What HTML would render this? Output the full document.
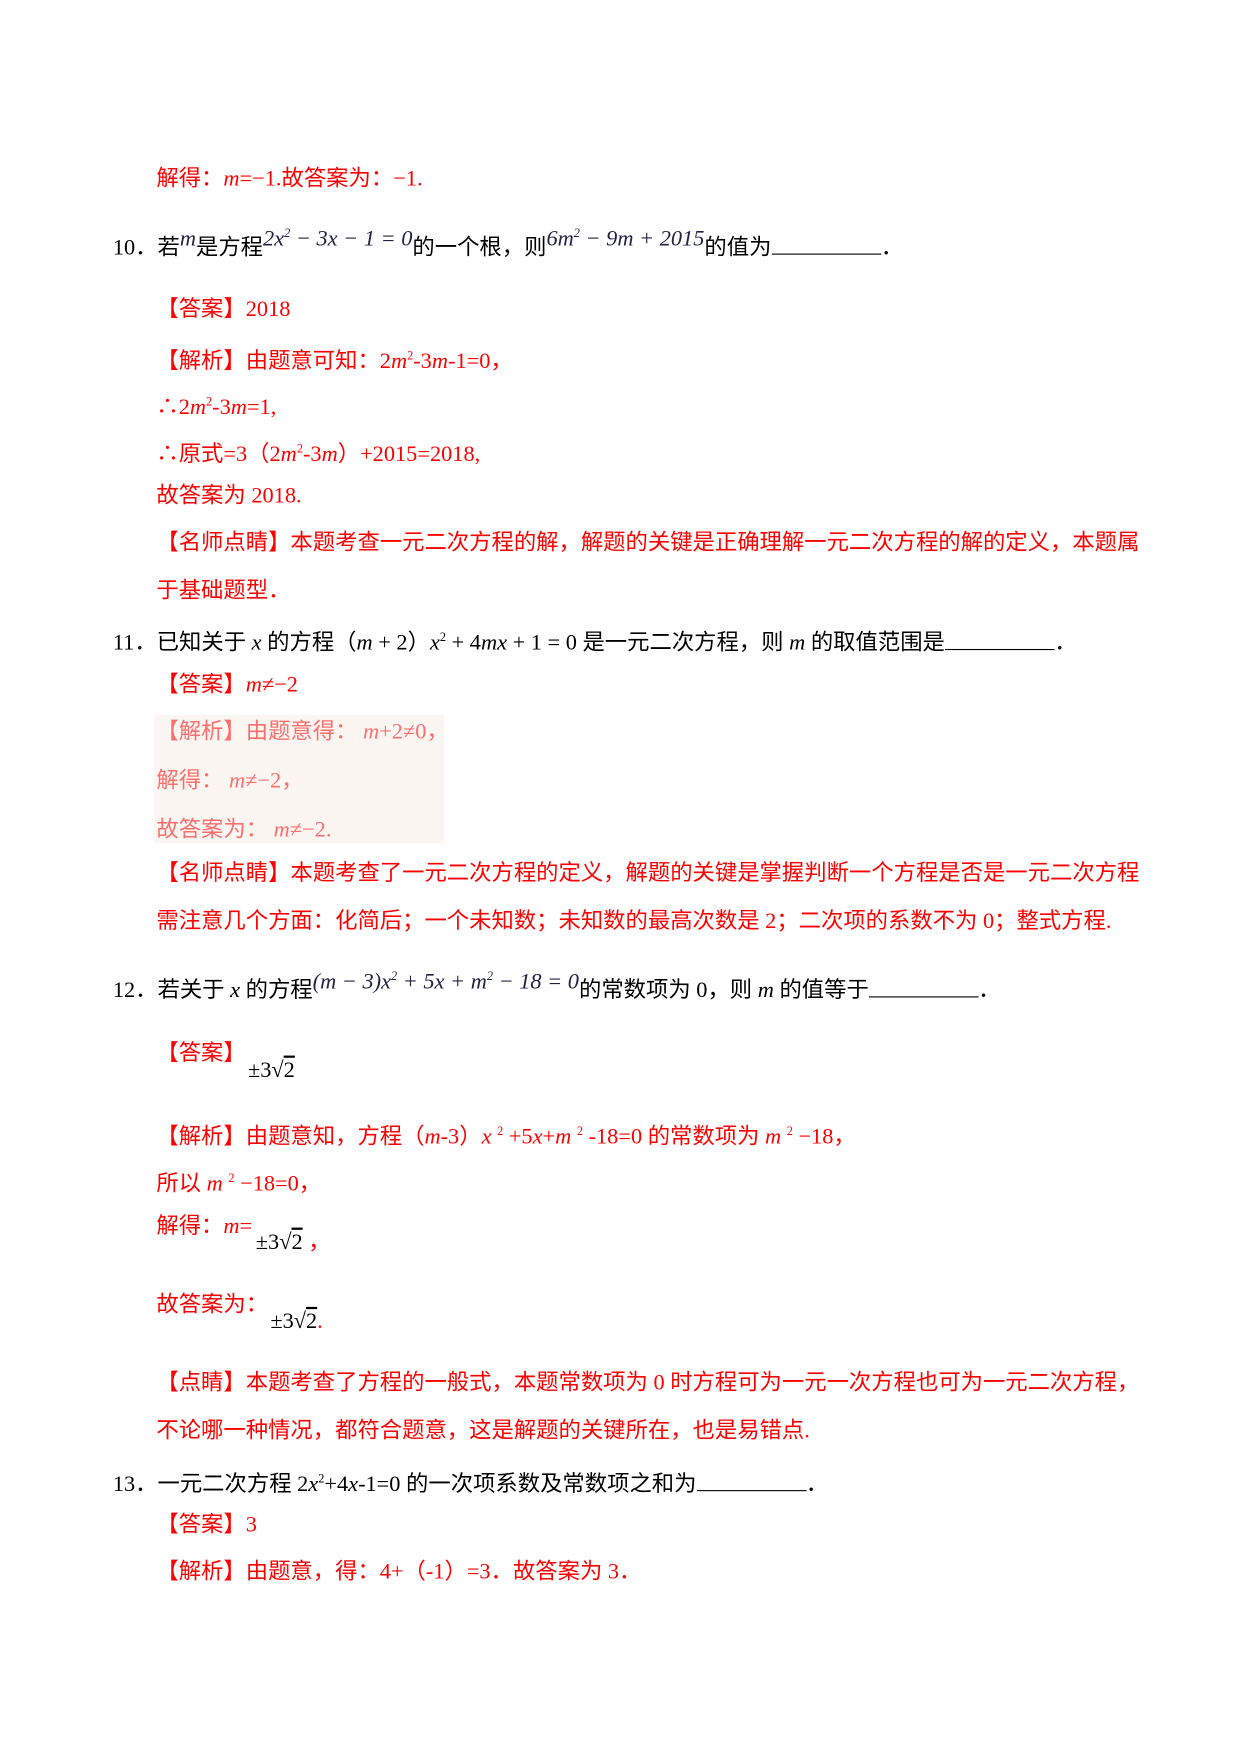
<!DOCTYPE html><html><head><meta charset="utf-8"><style>
body{margin:0;width:1240px;height:1754px;background:#fff;position:relative;overflow:hidden;font-family:"Liberation Serif","Noto Sans CJK SC",serif;}
#w{position:absolute;left:0;top:0;width:1110px;height:1570px;transform:scale(1.117);transform-origin:0 0;font-size:20px}
.l{position:absolute;white-space:nowrap;line-height:24px;color:#000}
.r{color:#f00}
i{font-style:italic}
.cj{font-family:"Liberation Sans","Noto Sans CJK SC",sans-serif}
.m{font-family:"Liberation Serif",serif;font-style:italic;font-size:20px;position:relative;top:-8px;color:#224}
.u{display:inline-block;width:98px;border-bottom:1px solid #000;height:18px}
.faded{opacity:.55}
sup{font-size:11px}
</style></head><body><div id="w">
<div class="l r" style="left:140px;top:148px"><span class="cj">解得：</span><i>m</i>=−1.<span class="cj">故答案为：</span>−1.</div>
<div class="l" style="left:101px;top:205px">10．<span class="cj">若</span><span class="m">m</span><span class="cj">是方程</span><span class="m">2x<sup>2</sup> − 3x − 1 = 0</span><span class="cj">的一个根，则</span><span class="m">6m<sup>2</sup> − 9m + 2015</span><span class="cj">的值为</span><span class="u"></span>．</div>
<div class="l r" style="left:140px;top:265px"><span class="cj">【答案】</span>2018</div>
<div class="l r" style="left:140px;top:307px"><span class="cj">【解析】由题意可知：</span>2<i>m</i><sup>2</sup>-3<i>m</i>-1=0，</div>
<div class="l r" style="left:140px;top:348px">∴2<i>m</i><sup>2</sup>-3<i>m</i>=1,</div>
<div class="l r" style="left:140px;top:390px">∴<span class="cj">原式</span>=3（2<i>m</i><sup>2</sup>-3<i>m</i>）+2015=2018,</div>
<div class="l r" style="left:140px;top:432px"><span class="cj">故答案为</span> 2018.</div>
<div class="l r cj" style="left:140px;top:474px">【名师点睛】本题考查一元二次方程的解，解题的关键是正确理解一元二次方程的解的定义，本题属</div>
<div class="l r cj" style="left:140px;top:517px">于基础题型．</div>
<div class="l" style="left:101px;top:559px">11．<span class="cj">已知关于</span> <i>x</i> <span class="cj">的方程（</span><i>m</i> + 2<span class="cj">）</span><i>x</i><sup>2</sup> + 4<i>mx</i> + 1 = 0 <span class="cj">是一元二次方程，则</span> <i>m</i> <span class="cj">的取值范围是</span><span class="u"></span>．</div>
<div class="l r" style="left:140px;top:601px"><span class="cj">【答案】</span><i>m</i>≠−2</div>
<div style="position:absolute;left:138px;top:640px;width:260px;height:115px;background:#fbf6f2"></div>
<div class="l r faded" style="left:140px;top:643px"><span class="cj">【解析】由题意得：</span> <i>m</i>+2≠0，</div>
<div class="l r faded" style="left:140px;top:687px"><span class="cj">解得：</span> <i>m</i>≠−2，</div>
<div class="l r faded" style="left:140px;top:731px"><span class="cj">故答案为：</span> <i>m</i>≠−2.</div>
<div class="l r cj" style="left:140px;top:770px">【名师点睛】本题考查了一元二次方程的定义，解题的关键是掌握判断一个方程是否是一元二次方程</div>
<div class="l r" style="left:140px;top:813px"><span class="cj">需注意几个方面：化简后；一个未知数；未知数的最高次数是</span> 2<span class="cj">；二次项的系数不为</span> 0<span class="cj">；整式方程</span>.</div>
<div class="l" style="left:101px;top:870px">12．<span class="cj">若关于</span> <i>x</i> <span class="cj">的方程</span><span class="m">(m − 3)x<sup>2</sup> + 5x + m<sup>2</sup> − 18 = 0</span><span class="cj">的常数项为</span> 0<span class="cj">，则</span> <i>m</i> <span class="cj">的值等于</span><span class="u"></span>．</div>
<div class="l r cj" style="left:140px;top:931px">【答案】</div>
<div class="l" style="left:222px;top:946px">±3√<span style="text-decoration:overline">2</span></div>
<div class="l r" style="left:140px;top:1001px"><span class="cj">【解析】由题意知，方程（</span><i>m</i>-3<span class="cj">）</span><i>x</i> <sup>2</sup> +5<i>x</i>+<i>m</i> <sup>2</sup> -18=0 <span class="cj">的常数项为</span> <i>m</i> <sup>2</sup> −18，</div>
<div class="l r" style="left:140px;top:1043px"><span class="cj">所以</span> <i>m</i> <sup>2</sup> −18=0，</div>
<div class="l r" style="left:140px;top:1086px"><span class="cj">解得：</span><i>m</i>=</div>
<div class="l" style="left:229px;top:1100px">±3√<span style="text-decoration:overline">2</span> <span class="r">，</span></div>
<div class="l r cj" style="left:140px;top:1156px">故答案为：</div>
<div class="l" style="left:242px;top:1171px">±3√<span style="text-decoration:overline">2</span><span class="r">.</span></div>
<div class="l r" style="left:140px;top:1226px"><span class="cj">【点睛】本题考查了方程的一般式，本题常数项为</span> 0 <span class="cj">时方程可为一元一次方程也可为一元二次方程，</span></div>
<div class="l r" style="left:140px;top:1269px"><span class="cj">不论哪一种情况，都符合题意，这是解题的关键所在，也是易错点</span>.</div>
<div class="l" style="left:101px;top:1312px">13．<span class="cj">一元二次方程</span> 2<i>x</i><sup>2</sup>+4<i>x</i>-1=0 <span class="cj">的一次项系数及常数项之和为</span><span class="u"></span>．</div>
<div class="l r" style="left:140px;top:1353px"><span class="cj">【答案】</span>3</div>
<div class="l r" style="left:140px;top:1395px"><span class="cj">【解析】由题意，得：</span>4+（-1）=3<span class="cj">．故答案为</span> 3．</div>
</div></body></html>
